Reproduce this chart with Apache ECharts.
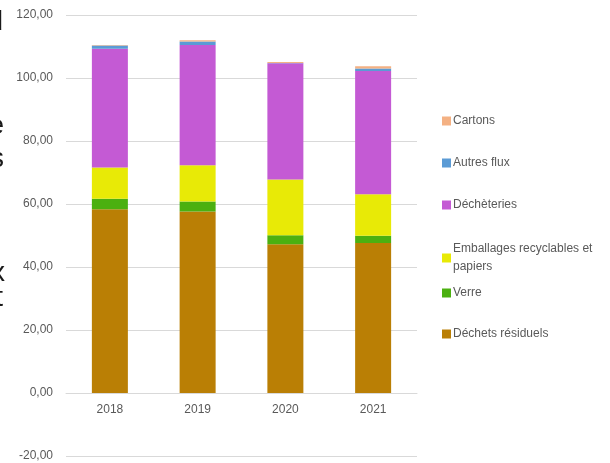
<!DOCTYPE html>
<html>
<head>
<meta charset="utf-8">
<script src="https://cdn.jsdelivr.net/npm/echarts@6/dist/echarts.min.js"></script>
<style>
  html, body { margin: 0; padding: 0; background: #fff; }
  #chart { width: 610px; height: 463px; }
</style>
</head>
<body>
<div id="chart"></div>
<script>
  // années
  var years = ['2018', '2019', '2020', '2021'];

  // tonnages par flux (empilés, bas -> haut)
  var dechetsResiduels = [58.3, 57.6, 47.2, 47.6];
  var verre = [3.4, 3.2, 2.9, 2.3];
  var emballages = [9.9, 11.5, 17.7, 13.2];
  var decheteries = [37.7, 38.2, 36.9, 39.1];
  var autresFlux = [1.0, 1.1, 0.1, 0.8];
  var cartons = [0.2, 0.4, 0.3, 0.7];

  var yTicks = [-20, 0, 20, 40, 60, 80, 100, 120];

  var seriesDefs = [
    { name: 'Déchets résiduels', data: dechetsResiduels, color: '#BA7F05' },
    { name: 'Verre', data: verre, color: '#4BB010' },
    { name: 'Emballages recyclables et papiers', data: emballages, color: '#E8EA06' },
    { name: 'Déchèteries', data: decheteries, color: '#C45AD4' },
    { name: 'Autres flux', data: autresFlux, color: '#5B9BD5' },
    { name: 'Cartons', data: cartons, color: '#F4B183' }
  ];

  var font = 'Liberation Sans';
  var grey = '#595959';

  // légende : une par série pour reproduire l'espacement irrégulier
  var legendTops = { 'Cartons': 107, 'Autres flux': 149, 'Déchèteries': 191,
    'Emballages recyclables et papiers': 235, 'Verre': 279, 'Déchets résiduels': 320 };
  var legends = seriesDefs.map(function (s) {
    return {
      left: 437,
      top: legendTops[s.name],
      orient: 'vertical',
      itemWidth: 9,
      itemHeight: 9,
      icon: 'rect',
      selectedMode: false,
      data: [s.name],
      formatter: function (n) {
        return n === 'Emballages recyclables et papiers' ? 'Emballages recyclables et\npapiers' : n;
      },
      textStyle: { color: grey, fontFamily: font, fontSize: 12, lineHeight: 18, padding: [0, 0, 0, -3] }
    };
  });

  // bouts de texte coupés au bord gauche
  var cutText = [['d', 3, 22], ['e', 4, 126], ['s', 4, 159], ['x', 5, 273], ['t', 3, 298]];

  var chart = echarts.init(document.getElementById('chart'));
  chart.setOption({
    animation: false,
    textStyle: { fontFamily: font },
    grid: { left: 66, right: 193, top: 15, bottom: 7, outerBoundsMode: 'none', containLabel: false },
    legend: legends,
    xAxis: {
      type: 'category',
      data: years,
      position: 'bottom',
      // l'axe est remonté sur la ligne du zéro (20 unités sous le zéro = 63 px)
      offset: -63,
      axisLine: { onZero: false, lineStyle: { color: '#d9d9d9', width: 1 } },
      axisTick: { show: false },
      axisLabel: { color: grey, fontSize: 12, margin: 11 }
    },
    yAxis: {
      type: 'value',
      min: yTicks[0],
      max: yTicks[yTicks.length - 1],
      interval: 20,
      axisLine: { show: false },
      axisTick: { show: false },
      splitLine: { lineStyle: { color: '#d9d9d9', width: 1 } },
      axisLabel: {
        color: grey, fontSize: 12, margin: 13,
        formatter: function (v) { return v.toFixed(2).replace('.', ','); }
      }
    },
    series: seriesDefs.map(function (s) {
      return {
        name: s.name,
        type: 'bar',
        stack: 'total',
        barWidth: 36,
        data: s.data,
        itemStyle: { color: s.color }
      };
    }),
    graphic: cutText.map(function (t) {
      return {
        type: 'text', x: t[1], y: t[2],
        style: { text: t[0], align: 'right', verticalAlign: 'middle', fontSize: 28, fill: '#1a1a1a', fontFamily: font }
      };
    })
  });
</script>
</body>
</html>
